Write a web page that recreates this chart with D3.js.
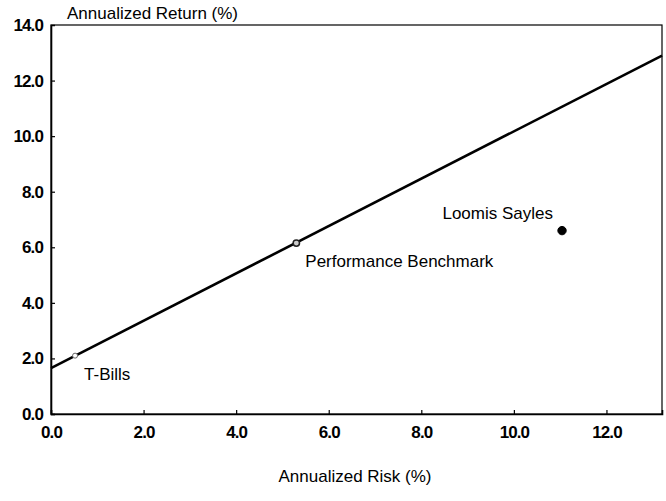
<!DOCTYPE html>
<html><head><meta charset="utf-8">
<script src="https://cdn.jsdelivr.net/npm/d3@7/dist/d3.min.js"></script>
<style>body{margin:0;background:#fff}svg{display:block}
text{font-family:"Liberation Sans Narrow","Arial Narrow","Liberation Sans",sans-serif;fill:#000}</style>
</head><body><svg id="c" width="666" height="501"></svg>
<script>
const xTicks = [0, 2, 4, 6, 8, 10, 12];
const yTicks = [0, 2, 4, 6, 8, 10, 12, 14];
const lineX = [0, 13.2];
const lineY = [1.65, 12.9];
const pointNames = ["T-Bills", "Performance Benchmark", "Loomis Sayles"];
const pointRisk = [0.52, 5.3, 11.04];
const pointReturn = [2.1, 6.15, 6.6];
const xTitle = "Annualized Risk (%)";
const yTitle = "Annualized Return (%)";

const svg = d3.select("#c");
const L = 51, R = 662, T = 25, B = 414;
const x = d3.scaleLinear().domain([0, 13.2]).range([L, R]);
const y = d3.scaleLinear().domain([0, 14]).range([B, T]);

// frame
svg.append("rect").attr("x", L).attr("y", T).attr("width", R - L).attr("height", B - T)
  .attr("fill", "none").attr("stroke", "#000").attr("stroke-width", 1.2);

const xa = svg.append("g").attr("transform", `translate(0,${B})`)
  .call(d3.axisBottom(x).tickValues(xTicks).tickSize(-4).tickPadding(12).tickFormat(d3.format(".1f")));
const ya = svg.append("g").attr("transform", `translate(${L},0)`)
  .call(d3.axisLeft(y).tickValues(yTicks).tickSize(-4).tickPadding(8).tickFormat(d3.format(".1f")));
[xa, ya].forEach(a => {
  a.select(".domain").attr("stroke", "#000").attr("stroke-width", 1.6);
  a.selectAll(".tick line").attr("stroke", "#000").attr("stroke-width", 1.2);
  a.selectAll("text").attr("font-size", 17).attr("font-weight", "bold").attr("fill", "#000")
    .attr("letter-spacing", -0.9)
    .style("font-family", '"Liberation Sans Narrow","Arial Narrow","Liberation Sans",sans-serif');
});
ya.select(".tick:last-of-type line").remove();

// line
svg.append("line").attr("x1", x(lineX[0])).attr("y1", y(lineY[0]))
  .attr("x2", x(lineX[1])).attr("y2", y(lineY[1]))
  .attr("stroke", "#000").attr("stroke-width", 2.6);

// points
const pts = pointNames.map((n, i) => ({n, r: pointRisk[i], v: pointReturn[i]}));
const styles = [
  {rad: 2.5, fill: "#fff", stroke: "#666", sw: 1},
  {rad: 3.2, fill: "#ccc", stroke: "#222", sw: 1.5},
  {rad: 4.2, fill: "#000", stroke: "#000", sw: 1}
];
svg.selectAll("circle.p").data(pts).join("circle").attr("class", "p")
  .attr("cx", d => x(d.r)).attr("cy", d => y(d.v))
  .attr("r", (d, i) => styles[i].rad).attr("fill", (d, i) => styles[i].fill)
  .attr("stroke", (d, i) => styles[i].stroke).attr("stroke-width", (d, i) => styles[i].sw);

const lab = [
  {dx: 9, dy: 24, anchor: "start"},
  {dx: 9, dy: 24, anchor: "start"},
  {dx: -9, dy: -12, anchor: "end"}
];
svg.selectAll("text.lab").data(pts).join("text").attr("class", "lab")
  .attr("x", (d, i) => x(d.r) + lab[i].dx).attr("y", (d, i) => y(d.v) + lab[i].dy)
  .attr("text-anchor", (d, i) => lab[i].anchor).attr("font-size", 17).text(d => d.n);

svg.append("text").attr("x", 67).attr("y", 19).attr("font-size", 17).text(yTitle);
svg.append("text").attr("x", 355).attr("y", 482).attr("text-anchor", "middle").attr("font-size", 17).text(xTitle);
</script></body></html>
